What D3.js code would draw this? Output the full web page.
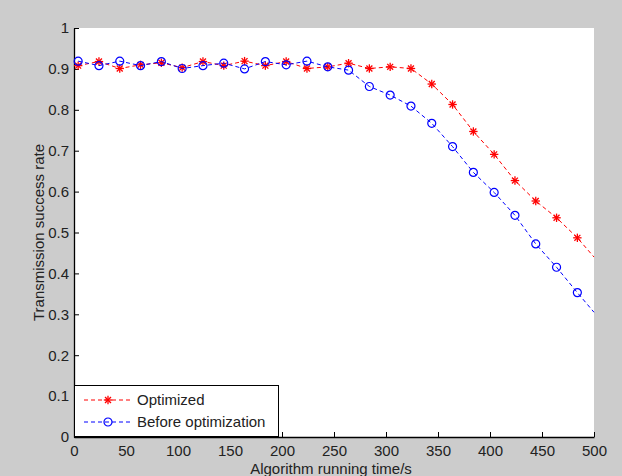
<!DOCTYPE html>
<html>
<head>
<meta charset="utf-8">
<script src="https://cdn.jsdelivr.net/npm/d3@7"></script>
<style>
  body { margin: 0; background: #cccccc; }
  text { font-family: Arial, "Liberation Sans", sans-serif; fill: #222; }
</style>
</head>
<body>
<div id="app"></div>
<script>
// sample times (s) with markers, plus the end point of each curve
const times = [4, 24, 44, 64, 84, 104, 124, 144, 164, 184, 204, 224, 244,
  264, 284, 304, 324, 344, 364, 384, 404, 424, 444, 464, 484, 500]
const optimized = [0.908, 0.918, 0.901, 0.910, 0.915, 0.903, 0.918, 0.908, 0.919,
  0.908, 0.918, 0.901, 0.905, 0.914, 0.901, 0.905, 0.901, 0.863, 0.813, 0.747,
  0.691, 0.627, 0.577, 0.536, 0.487, 0.440]
const before = [0.919, 0.908, 0.919, 0.908, 0.918, 0.901, 0.908, 0.914, 0.900,
  0.918, 0.910, 0.919, 0.905, 0.897, 0.857, 0.836, 0.809, 0.767, 0.710, 0.647,
  0.598, 0.542, 0.472, 0.415, 0.353, 0.305]
const xTicks = [0, 50, 100, 150, 200, 250, 300, 350, 400, 450, 500]
const yTicks = [0, 0.1, 0.2, 0.3, 0.4, 0.5, 0.6, 0.7, 0.8, 0.9, 1]

const W = 622, H = 476
const m = { left: 74, right: 28, top: 28, bottom: 39 }
const fs = 15

const svg = d3.select('#app').append('svg')
  .attr('width', W)
  .attr('height', H)

svg.append('rect').attr('width', W).attr('height', H).attr('fill', '#cccccc')

const x = d3.scaleLinear().domain([0, 500]).range([m.left, W - m.right])
const y = d3.scaleLinear().domain([0, 1]).range([H - m.bottom, m.top])

svg.append('rect')
  .attr('x', x(0)).attr('y', y(1))
  .attr('width', x(500) - x(0)).attr('height', y(0) - y(1))
  .attr('fill', 'white')

// axes, ticks inside like matlab
const xAxis = svg.append('g')
  .attr('transform', `translate(0, ${y(0)})`)
  .call(d3.axisBottom(x).tickValues(xTicks).tickSizeInner(-5).tickSizeOuter(0).tickPadding(8))
const yAxis = svg.append('g')
  .attr('transform', `translate(${x(0)}, 0)`)
  .call(d3.axisLeft(y).tickValues(yTicks).tickFormat(d3.format('~g')).tickSizeInner(-5).tickSizeOuter(0).tickPadding(5))

for (const g of [xAxis, yAxis]) {
  g.selectAll('path').attr('stroke', '#000').attr('stroke-width', 1.3)
  g.selectAll('line').attr('stroke', '#000')
  g.selectAll('text').attr('font-size', fs).attr('fill', '#222')
    .style('font-family', 'Arial, "Liberation Sans", sans-serif')
}

svg.append('text')
  .attr('x', (x(0) + x(500)) / 2 - 3).attr('y', 474)
  .attr('text-anchor', 'middle').attr('font-size', fs)
  .text('Algorithm running time/s')

svg.append('text')
  .attr('transform', `translate(44, ${(y(0) + y(1)) / 2}) rotate(-90)`)
  .attr('text-anchor', 'middle').attr('font-size', fs)
  .text('Transmission success rate')

const series = [
  { name: 'Optimized', values: optimized, color: '#ff0000', marker: 'star' },
  { name: 'Before optimization', values: before, color: '#0000ff', marker: 'circle' }
]

const line = d3.line()
  .x(d => x(d[0]))
  .y(d => y(d[1]))

function drawMarker(g, type, color) {
  if (type === 'circle') {
    g.append('circle').attr('r', 4)
      .attr('fill', 'none').attr('stroke', color).attr('stroke-width', 1.2)
  } else {
    const r = 4.2
    for (let a = 0; a < 4; a++) {
      const t = a * Math.PI / 4
      g.append('line')
        .attr('x1', -r * Math.cos(t)).attr('y1', -r * Math.sin(t))
        .attr('x2', r * Math.cos(t)).attr('y2', r * Math.sin(t))
        .attr('stroke', color).attr('stroke-width', 1.3)
    }
  }
}

series.forEach(s => {
  const pts = times.map((t, i) => [t, s.values[i]])
  svg.append('path')
    .attr('d', line(pts))
    .attr('fill', 'none')
    .attr('stroke', s.color)
    .attr('stroke-width', 1)
    .attr('stroke-dasharray', '4,3')

  // markers on all but the last point
  pts.slice(0, -1).forEach(p => {
    const g = svg.append('g').attr('transform', `translate(${x(p[0])}, ${y(p[1])})`)
    drawMarker(g, s.marker, s.color)
  })
})

// legend
const lg = svg.append('g')
lg.append('rect')
  .attr('x', 74.5).attr('y', 385.5).attr('width', 204).attr('height', 51)
  .attr('fill', 'white').attr('stroke', '#000').attr('stroke-width', 1)

series.forEach((s, i) => {
  const ly = 400 + i * 22
  lg.append('line')
    .attr('x1', 84).attr('x2', 131).attr('y1', ly).attr('y2', ly)
    .attr('stroke', s.color).attr('stroke-dasharray', '4,3')
  const g = lg.append('g').attr('transform', `translate(108, ${ly})`)
  drawMarker(g, s.marker, s.color)
  lg.append('text')
    .attr('x', 137).attr('y', ly).attr('dy', '0.35em')
    .attr('font-size', fs)
    .text(s.name)
})
</script>
</body>
</html>
